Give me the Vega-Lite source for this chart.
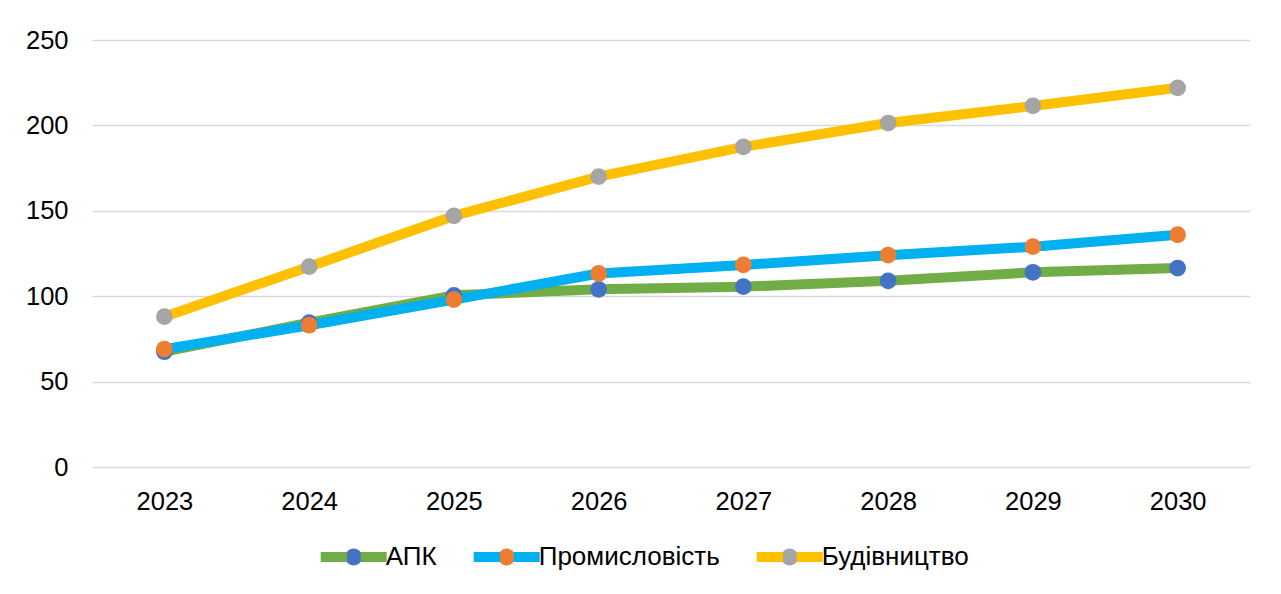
{
  "$schema": "https://vega.github.io/schema/vega-lite/v6.json",
  "width": 1158,
  "height": 427,
  "autosize": {"type": "none"},
  "padding": {"left": 92, "top": 40, "right": 31, "bottom": 127},
  "background": "white",
  "config": {
    "view": {"stroke": null},
    "font": "Liberation Sans",
    "axis": {"labelFont": "Liberation Sans", "labelColor": "#000000", "labelFontSize": 25.5},
    "legend": {"labelFont": "Liberation Sans", "labelColor": "#000000", "labelFontSize": 26, "padding": 0, "labelLimit": 400}
  },
  "data": {
    "values": [
      {"series": "АПК", "year": "2023", "value": 67.5},
      {"series": "АПК", "year": "2024", "value": 84.5},
      {"series": "АПК", "year": "2025", "value": 100.5},
      {"series": "АПК", "year": "2026", "value": 104},
      {"series": "АПК", "year": "2027", "value": 105.6},
      {"series": "АПК", "year": "2028", "value": 109},
      {"series": "АПК", "year": "2029", "value": 114},
      {"series": "АПК", "year": "2030", "value": 116.5},
      {"series": "Промисловість", "year": "2023", "value": 69},
      {"series": "Промисловість", "year": "2024", "value": 83},
      {"series": "Промисловість", "year": "2025", "value": 98},
      {"series": "Промисловість", "year": "2026", "value": 113.3},
      {"series": "Промисловість", "year": "2027", "value": 118.3},
      {"series": "Промисловість", "year": "2028", "value": 124},
      {"series": "Промисловість", "year": "2029", "value": 129},
      {"series": "Промисловість", "year": "2030", "value": 136},
      {"series": "Будівництво", "year": "2023", "value": 88},
      {"series": "Будівництво", "year": "2024", "value": 117.3},
      {"series": "Будівництво", "year": "2025", "value": 147},
      {"series": "Будівництво", "year": "2026", "value": 170},
      {"series": "Будівництво", "year": "2027", "value": 187.4},
      {"series": "Будівництво", "year": "2028", "value": 201.4},
      {"series": "Будівництво", "year": "2029", "value": 211.4},
      {"series": "Будівництво", "year": "2030", "value": 222}
    ]
  },
  "encoding": {
    "x": {
      "field": "year",
      "type": "ordinal",
      "scale": {"type": "point", "padding": 0.5},
      "axis": {"title": null, "domain": false, "ticks": false, "tickSize": 0, "labelAngle": 0, "labelPadding": 22, "grid": false}
    },
    "y": {
      "field": "value",
      "type": "quantitative",
      "scale": {"domain": [0, 250], "nice": false, "zero": true},
      "axis": {"title": null, "domain": false, "ticks": false, "tickSize": 0, "labelPadding": 24, "values": [0, 50, 100, 150, 200, 250], "grid": true, "gridColor": "#d9d9d9", "gridWidth": 1.5}
    }
  },
  "layer": [
    {
      "mark": {"type": "line", "strokeWidth": 10, "strokeCap": "round", "strokeJoin": "round"},
      "encoding": {
        "color": {
          "field": "series",
          "type": "nominal",
          "scale": {"domain": ["АПК", "Промисловість", "Будівництво"], "range": ["#70AD47", "#00B0F0", "#FFC000"]},
          "legend": {
            "orient": "none",
            "legendX": 228.7,
            "legendY": 478.7,
            "direction": "horizontal",
            "title": null,
            "symbolType": "M-1,0L-0.2036,0L-0.255,0A0.255,0.255,0,1,0,0.255,0A0.255,0.255,0,1,0,-0.255,0L0.2036,0L1,0",
            "symbolSize": 4356,
            "symbolStrokeWidth": 10,
            "symbolDash": [26.28, 69.7, 26.28, 1000],
            "symbolOffset": -5,
            "labelOffset": -6,
            "columnPadding": 32,
            "padding": 0,
            "encoding": {
              "symbols": {
                "fill": {"value": {"expr": "datum.value == 'АПК' ? '#4472C4' : datum.value == 'Промисловість' ? '#ED7D31' : '#A5A5A5'"}},
                "fillOpacity": {"value": 1},
                "strokeOpacity": {"value": 1},
                "strokeJoin": {"value": "round"}
              }
            }
          }
        }
      }
    },
    {
      "mark": {"type": "point", "filled": true, "size": 280, "opacity": 1},
      "encoding": {
        "fill": {
          "field": "series",
          "type": "nominal",
          "scale": {"domain": ["АПК", "Промисловість", "Будівництво"], "range": ["#4472C4", "#ED7D31", "#A5A5A5"]},
          "legend": null
        }
      }
    }
  ]
}
